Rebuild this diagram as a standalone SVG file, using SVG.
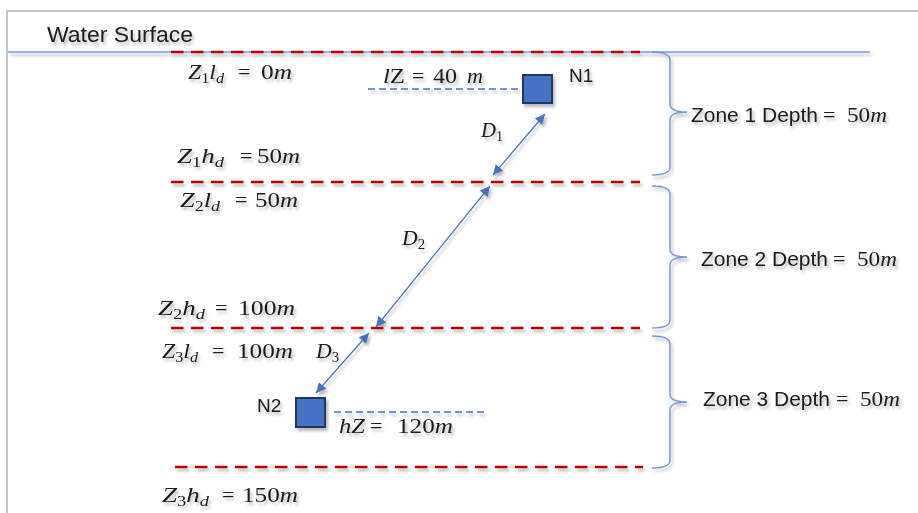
<svg xmlns="http://www.w3.org/2000/svg" width="918" height="513" viewBox="0 0 918 513">
<defs>
<filter id="sh" x="-10%" y="-10%" width="120%" height="130%">
<feDropShadow dx="2" dy="3" stdDeviation="1.8" flood-color="#000" flood-opacity="0.28"/>
</filter>
<marker id="ah" viewBox="0 0 10 10" refX="10" refY="5" markerWidth="11" markerHeight="10" markerUnits="userSpaceOnUse" orient="auto-start-reverse">
<path d="M0,0 L10,5 L0,10 Z" fill="#4472C4"/>
</marker>
<style>
.sans{font-family:"Liberation Sans",Arial,sans-serif;fill:#1a1a1a}
.m{font-family:"Liberation Serif","Times New Roman",serif;font-size:22px;fill:#1a1a1a}
.i{font-style:italic}
.sub{font-size:15px}
.red{stroke:#C00000;stroke-width:2.6;stroke-dasharray:12.5 7.5;fill:none}
.bd{stroke:#4472C4;stroke-width:1.5;stroke-dasharray:7 4;fill:none}
.brace{stroke:#6F95D8;stroke-width:1.4;fill:none}
.arr{stroke:#4472C4;stroke-width:1.2;fill:none;marker-start:url(#ah);marker-end:url(#ah)}
.node{fill:#4472C4;stroke:#1F3864;stroke-width:2}
</style>
</defs>
<rect width="918" height="513" fill="#fff"/>
<!-- frame -->
<path d="M7,513 L7,11 L918,11" fill="none" stroke="#C4C4C4" stroke-width="2"/>
<g filter="url(#sh)">
<!-- water surface -->
<g id="water">
<line x1="8" y1="52" x2="870" y2="52" stroke="#6F9BE0" stroke-width="1.3"/>
<text class="sans" x="47" y="42" font-size="22" textLength="146" lengthAdjust="spacingAndGlyphs">Water Surface</text>
</g>
<!-- zone boundaries -->
<g id="boundaries">
<line class="red" x1="171" y1="52" x2="640" y2="52"/>
<line class="red" x1="171" y1="182" x2="640" y2="182"/>
<line class="red" x1="171" y1="328" x2="640" y2="328"/>
<line class="red" x1="175" y1="467" x2="643" y2="467"/>
</g>
<!-- braces -->
<g id="brace1">
<path class="brace" d="M652,52 Q670,52 670,60 L670,104 Q670,112 687,112 Q670,112 670,120 L670,167 Q670,175 652,175"/>
<text class="sans" x="691" y="122" font-size="21" textLength="127" lengthAdjust="spacingAndGlyphs">Zone 1 Depth</text>
<text class="m" x="823" y="122">=</text>
<text class="m" x="847" y="122" textLength="40" lengthAdjust="spacingAndGlyphs">50<tspan class="i">m</tspan></text>
</g>
<g id="brace2">
<path class="brace" d="M652,186 Q670,186 670,194 L670,249 Q670,257 687,257 Q670,257 670,265 L670,320 Q670,328 652,328"/>
<text class="sans" x="701" y="266" font-size="21" textLength="127" lengthAdjust="spacingAndGlyphs">Zone 2 Depth</text>
<text class="m" x="833" y="266">=</text>
<text class="m" x="857" y="266" textLength="40" lengthAdjust="spacingAndGlyphs">50<tspan class="i">m</tspan></text>
</g>
<g id="brace3">
<path class="brace" d="M652,336 Q670,336 670,344 L670,394 Q670,402 687,402 Q670,402 670,410 L670,460 Q670,468 652,468"/>
<text class="sans" x="703" y="406" font-size="21" textLength="127" lengthAdjust="spacingAndGlyphs">Zone 3 Depth</text>
<text class="m" x="836" y="406">=</text>
<text class="m" x="860" y="406" textLength="40" lengthAdjust="spacingAndGlyphs">50<tspan class="i">m</tspan></text>
</g>
<!-- depth labels -->
<g id="z1ld">
<text class="m" x="188" y="79" textLength="36" lengthAdjust="spacingAndGlyphs"><tspan class="i">Z</tspan><tspan class="sub" dy="4">1</tspan><tspan class="i" dy="-4">l</tspan><tspan class="sub i" dy="4">d</tspan></text>
<text class="m" x="238" y="79">=</text>
<text class="m" x="261" y="79" textLength="31" lengthAdjust="spacingAndGlyphs">0<tspan class="i">m</tspan></text>
</g>
<g id="z1hd">
<text class="m" x="177" y="163" textLength="47" lengthAdjust="spacingAndGlyphs"><tspan class="i">Z</tspan><tspan class="sub" dy="4">1</tspan><tspan class="i" dy="-4">h</tspan><tspan class="sub i" dy="4">d</tspan></text>
<text class="m" x="240" y="163">=</text>
<text class="m" x="257" y="163" textLength="43" lengthAdjust="spacingAndGlyphs">50<tspan class="i">m</tspan></text>
</g>
<g id="z2ld">
<text class="m" x="180" y="207" textLength="40" lengthAdjust="spacingAndGlyphs"><tspan class="i">Z</tspan><tspan class="sub" dy="4">2</tspan><tspan class="i" dy="-4">l</tspan><tspan class="sub i" dy="4">d</tspan></text>
<text class="m" x="235" y="207">=</text>
<text class="m" x="255" y="207" textLength="43" lengthAdjust="spacingAndGlyphs">50<tspan class="i">m</tspan></text>
</g>
<g id="z2hd">
<text class="m" x="158" y="315" textLength="47" lengthAdjust="spacingAndGlyphs"><tspan class="i">Z</tspan><tspan class="sub" dy="4">2</tspan><tspan class="i" dy="-4">h</tspan><tspan class="sub i" dy="4">d</tspan></text>
<text class="m" x="215" y="315">=</text>
<text class="m" x="238" y="315" textLength="57" lengthAdjust="spacingAndGlyphs">100<tspan class="i">m</tspan></text>
</g>
<g id="z3ld">
<text class="m" x="162" y="358" textLength="36" lengthAdjust="spacingAndGlyphs"><tspan class="i">Z</tspan><tspan class="sub" dy="4">3</tspan><tspan class="i" dy="-4">l</tspan><tspan class="sub i" dy="4">d</tspan></text>
<text class="m" x="212" y="358">=</text>
<text class="m" x="237" y="358" textLength="56" lengthAdjust="spacingAndGlyphs">100<tspan class="i">m</tspan></text>
</g>
<g id="z3hd">
<text class="m" x="162" y="502" textLength="47" lengthAdjust="spacingAndGlyphs"><tspan class="i">Z</tspan><tspan class="sub" dy="4">3</tspan><tspan class="i" dy="-4">h</tspan><tspan class="sub i" dy="4">d</tspan></text>
<text class="m" x="222" y="502">=</text>
<text class="m" x="242" y="502" textLength="56" lengthAdjust="spacingAndGlyphs">150<tspan class="i">m</tspan></text>
</g>
<!-- nodes -->
<g id="N1">
<rect class="node" x="523" y="75" width="29" height="28"/>
<text class="sans" x="569" y="82" font-size="19">N1</text>
</g>
<g id="lZ">
<line class="bd" x1="368" y1="89" x2="518" y2="89"/>
<text class="m" x="383" y="83" textLength="22" lengthAdjust="spacingAndGlyphs"><tspan class="i">l</tspan>Z</text>
<text class="m" x="412" y="83">=</text>
<text class="m" x="433" y="83" textLength="24" lengthAdjust="spacingAndGlyphs">40</text>
<text class="m i" x="467" y="83" textLength="16" lengthAdjust="spacingAndGlyphs">m</text>
</g>
<g id="N2">
<rect class="node" x="296" y="398" width="29" height="29"/>
<text class="sans" x="257" y="412" font-size="19">N2</text>
</g>
<g id="hZ">
<line class="bd" x1="334" y1="412" x2="485" y2="412"/>
<text class="m" x="339" y="433" textLength="26" lengthAdjust="spacingAndGlyphs"><tspan class="i">hZ</tspan></text>
<text class="m" x="370" y="433">=</text>
<text class="m" x="397" y="433" textLength="56" lengthAdjust="spacingAndGlyphs">120<tspan class="i">m</tspan></text>
</g>
<!-- connectors -->
<g id="connectors">
<line class="arr" x1="545" y1="114" x2="493" y2="175"/>
<line class="arr" x1="490" y1="186" x2="376" y2="327"/>
<line class="arr" x1="369" y1="333" x2="316" y2="393"/>
<text class="m" x="481" y="137" textLength="22" lengthAdjust="spacingAndGlyphs"><tspan class="i">D</tspan><tspan class="sub" dy="4">1</tspan></text>
<text class="m" x="402" y="245" textLength="23" lengthAdjust="spacingAndGlyphs"><tspan class="i">D</tspan><tspan class="sub" dy="4">2</tspan></text>
<text class="m" x="316" y="358" textLength="23" lengthAdjust="spacingAndGlyphs"><tspan class="i">D</tspan><tspan class="sub" dy="4">3</tspan></text>
</g>
</g>
</svg>
